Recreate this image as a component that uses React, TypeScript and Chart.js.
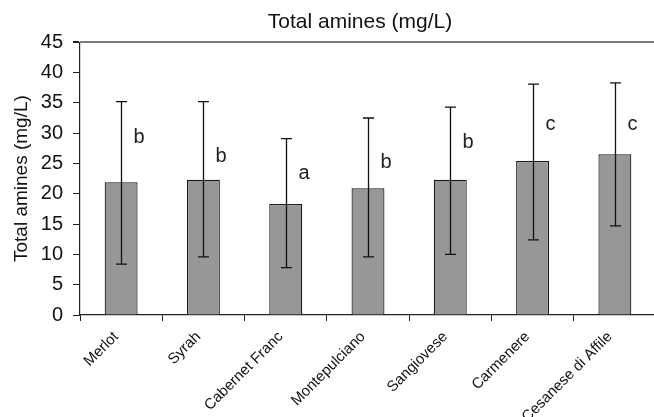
import React, { useEffect, useRef } from "react";
import { Chart, registerables } from "chart.js";

Chart.register(...registerables);

const categories = [
  "Merlot",
  "Syrah",
  "Cabernet Franc",
  "Montepulciano",
  "Sangiovese",
  "Carmenere",
  "Cesanese di Affile",
];
const means = [21.9, 22.3, 18.3, 20.9, 22.3, 25.4, 26.5];
const errLow = [8.4, 9.6, 7.8, 9.6, 10.0, 12.4, 14.7];
const errHigh = [35.2, 35.2, 29.1, 32.5, 34.3, 38.1, 38.3];
const letters = ["b", "b", "a", "b", "b", "c", "c"];
const letterY = [29.2, 26.2, 23.3, 25.1, 28.4, 31.4, 31.4];

const FONT = "'Liberation Sans', Arial, sans-serif";

const errorBarPlugin = {
  id: "errorBars",
  afterDatasetsDraw(chart: any) {
    const ctx = chart.ctx;
    const meta = chart.getDatasetMeta(0);
    const y = chart.scales.y;
    ctx.save();
    ctx.strokeStyle = "#111";
    ctx.lineWidth = 1.3;
    meta.data.forEach((bar: any, i: number) => {
      const x = Math.round(bar.x) + 0.5;
      const yl = y.getPixelForValue(errLow[i]);
      const yh = y.getPixelForValue(errHigh[i]);
      ctx.beginPath();
      ctx.moveTo(x, yl);
      ctx.lineTo(x, yh);
      ctx.moveTo(x - 5.5, yl);
      ctx.lineTo(x + 5.5, yl);
      ctx.moveTo(x - 5.5, yh);
      ctx.lineTo(x + 5.5, yh);
      ctx.stroke();
      ctx.fillStyle = "#222";
      ctx.font = `20px ${FONT}`;
      ctx.textAlign = "left";
      ctx.textBaseline = "middle";
      ctx.fillText(letters[i], x + 12, y.getPixelForValue(letterY[i]));
    });
    ctx.restore();
  },
  afterLayout(chart: any) {
    const tb = chart.titleBlock;
    if (tb) {
      tb.left -= 8;
      tb.right -= 8;
    }
  },
};

export default function App() {
  const ref = useRef<HTMLCanvasElement | null>(null);
  useEffect(() => {
    if (!ref.current) return;
    const chart = new Chart(ref.current, {
      type: "bar",
      data: {
        labels: categories,
        datasets: [
          {
            data: means,
            backgroundColor: "#979797",
            borderColor: "#1a1a1a",
            borderWidth: 1.2,
            categoryPercentage: 1,
            barPercentage: 0.4,
          },
        ],
      },
      plugins: [errorBarPlugin],
      options: {
        responsive: false,
        animation: false,
        layout: { padding: 0 },
        plugins: {
          legend: { display: false },
          tooltip: { enabled: false },
          title: {
            display: true,
            text: "Total amines (mg/L)",
            color: "#111",
            fullSize: false,
            font: { family: FONT, size: 21, weight: "normal" },
            padding: { top: 10, bottom: 7 },
          },
        },
        scales: {
          x: {
            afterFit: (s: any) => {
              s.height = 125;
            },
            grid: {
              display: true,
              drawOnChartArea: false,
              drawTicks: true,
              tickLength: 6,
              tickColor: "#222",
              offset: true,
            },
            border: { display: true, color: "#222", width: 1.2 },
            ticks: {
              color: "#111",
              font: { family: FONT, size: 15 },
              maxRotation: 45,
              minRotation: 45,
              padding: 7,
              labelOffset: -5,
              autoSkip: false,
            },
          },
          y: {
            min: 0,
            max: 45,
            afterFit: (s: any) => {
              s.width = 80;
            },
            ticks: {
              stepSize: 5,
              color: "#111",
              font: { family: FONT, size: 20 },
              padding: 10,
            },
            grid: {
              drawTicks: true,
              tickLength: 7,
              tickColor: "#222",
              lineWidth: (c: any) => (c.tick && c.tick.value === 45 ? 2 : 1),
              color: (c: any) =>
                c.tick && c.tick.value === 45 ? "#7a7a7a" : "rgba(0,0,0,0)",
            },
            border: { display: true, color: "#222", width: 1.2 },
            title: {
              display: true,
              text: "Total amines (mg/L)",
              color: "#111",
              font: { family: FONT, size: 19 },
              padding: { top: 10, bottom: 0 },
            },
          },
        },
      },
    });
    return () => chart.destroy();
  }, []);
  return (
    <div
      style={{
        position: "absolute",
        left: 0,
        top: 0,
        width: 654,
        height: 417,
        overflow: "hidden",
        background: "#fff",
      }}
    >
      <canvas ref={ref} width={656} height={440} style={{ display: "block" }} />
    </div>
  );
}
